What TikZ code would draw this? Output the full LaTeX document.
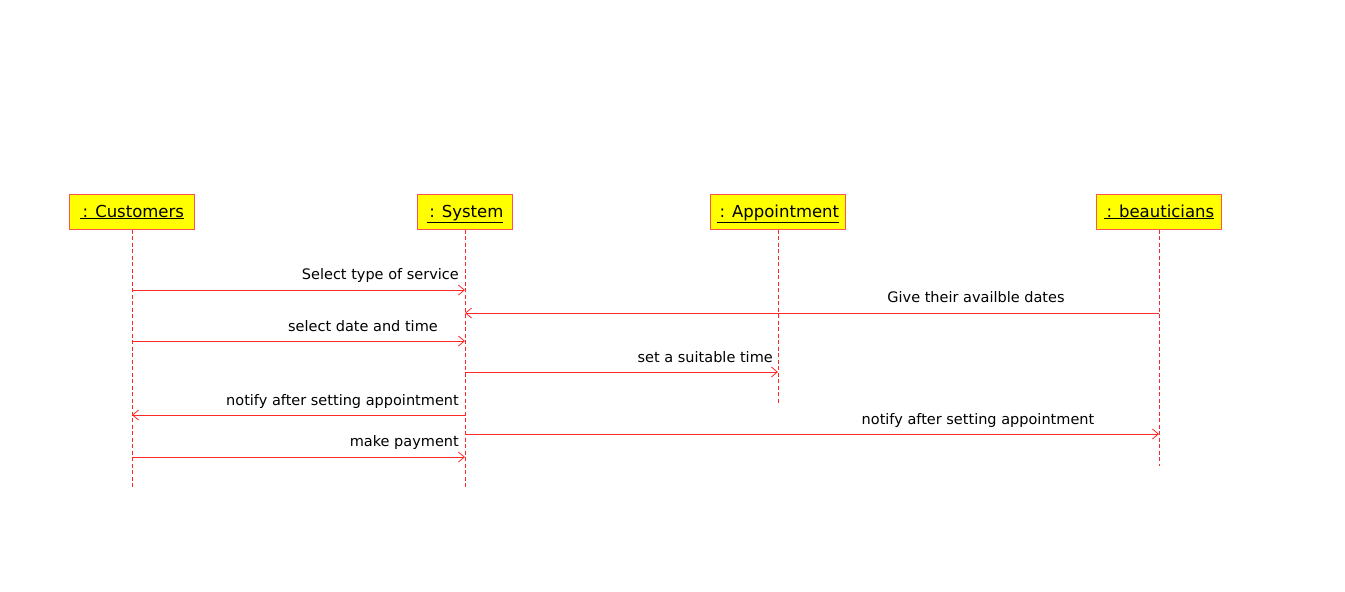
\documentclass[tikz,border=0pt]{standalone}
\usepackage{fontspec}
\setmainfont{DejaVu Sans}
\usepackage{tikz}
\usetikzlibrary{positioning,calc,arrows.meta}
\definecolor{umlred}{RGB}{255,40,40}
\definecolor{umlyellow}{RGB}{255,255,0}
\tikzset{obj/.style={draw=umlred!80,fill=umlyellow,line width=1pt,minimum height=35pt,inner xsep=4pt,text height=13pt,text depth=2pt,font=\fontsize{16.5}{19}\selectfont},
         life/.style={draw=umlred,dashed,dash pattern=on 4pt off 2.5pt,line width=0.8pt},
         msg/.style={draw=umlred,line width=0.8pt,-{Straight Barb[length=6pt,width=10pt]}},
         lbl/.style={font=\fontsize{14.5}{16}\selectfont,inner sep=0pt}
}

\begin{document}
\begin{tikzpicture}[x=1pt,y=-1pt]
\useasboundingbox (0,0) rectangle (1345,592);

% Objects
\node[obj,minimum width=125pt] (cust) at (132,211.5) {\underline{\,: Customers}};
\node[obj,minimum width=95pt] (sys) at (465,211.5) {\underline{\,: System}};
\node[obj,minimum width=135pt] (appt) at (778,211.5) {\underline{\,: Appointment}};
\node[obj,minimum width=125pt] (beau) at (1159,211.5) {\underline{\,: beauticians}};

% Lifelines
\draw[life] (cust.south) -- (cust.south |- 0,488);
\draw[life] (sys.south) -- (sys.south |- 0,488);
\draw[life] (appt.south) -- (appt.south |- 0,403);
\draw[life] (beau.south) -- (beau.south |- 0,466);

% Messages
\draw[msg] (cust.south |- 0,290) -- (sys.south |- 0,290);
\draw[msg] (beau.south |- 0,313) -- (sys.south |- 0,313);
\draw[msg] (cust.south |- 0,341) -- (sys.south |- 0,341);
\draw[msg] (sys.south |- 0,372) -- (appt.south |- 0,372);
\draw[msg] (sys.south |- 0,415) -- (cust.south |- 0,415);
\draw[msg] (sys.south |- 0,434) -- (beau.south |- 0,434);
\draw[msg] (cust.south |- 0,457) -- (sys.south |- 0,457);

% Text Node
\node[lbl,anchor=base east] (l1) at (459,279) {Select type of service};
\node[lbl,anchor=base] (l2) at (976,302) {Give their availble dates};
\node[lbl,anchor=base east] (l3) at (438,331) {select date and time};
\node[lbl,anchor=base east] (l4) at (773,362) {set a suitable time};
\node[lbl,anchor=base east] (l5) at (459,405) {notify after setting appointment};
\node[lbl,anchor=base] (l6) at (978,424) {notify after setting appointment};
\node[lbl,anchor=base east] (l7) at (459,446) {make payment};

\end{tikzpicture}
\end{document}
